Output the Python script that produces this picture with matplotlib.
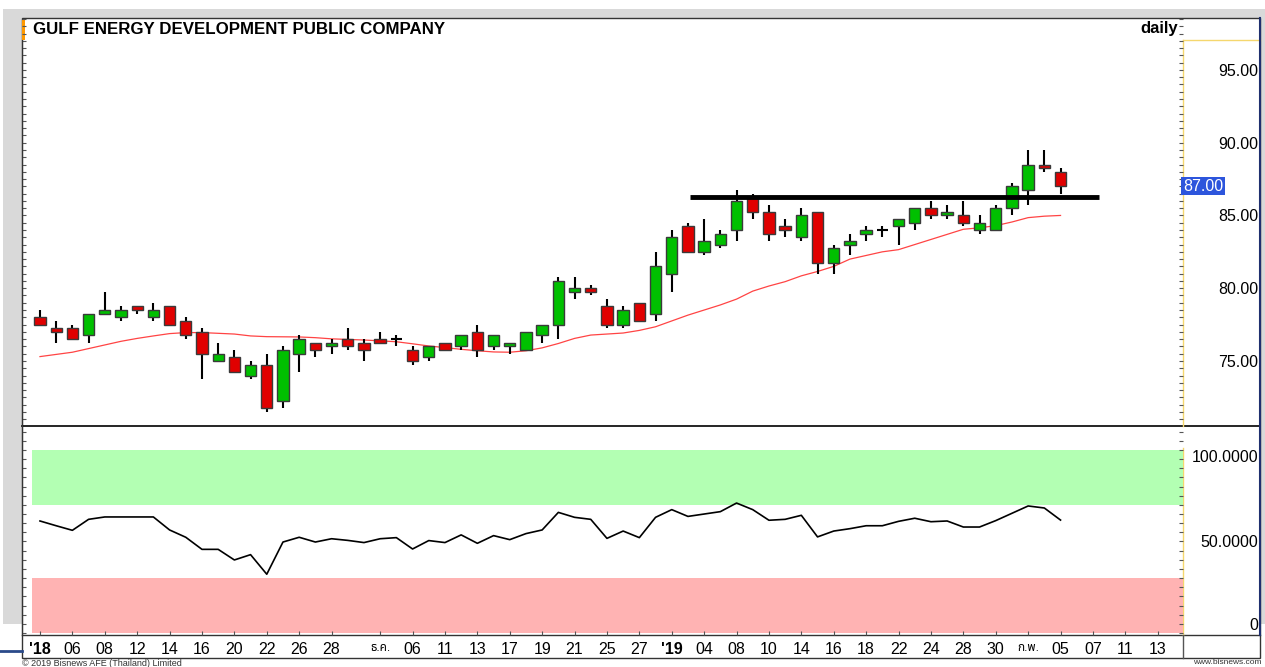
import matplotlib
matplotlib.use('Agg')
import matplotlib.pyplot as plt
from matplotlib import font_manager
from matplotlib.patches import Rectangle
from matplotlib.ticker import MultipleLocator, FixedLocator
import numpy as np

# pick a family that has Thai glyphs for the month labels
installed = {f.name for f in font_manager.fontManager.ttflist}
thai_font = next((n for n in ['Noto Sans Thai', 'Noto Sans Thai Looped', 'Sarabun',
                              'Loma', 'Garuda', 'Tlwg Typo', 'Anuphan', 'Athiti']
                  if n in installed), 'DejaVu Sans')
plt.rcParams['font.family'] = ['Liberation Sans', thai_font, 'DejaVu Sans']

# OHLC, one row per trading day (2 Nov 2018 .. 5 Feb 2019)
opens = [78.00, 77.25, 77.25, 76.75, 78.25, 78.00, 78.75, 78.00, 78.75, 77.75,
         77.00, 75.00, 75.25, 74.00, 74.75, 72.25, 75.50, 76.25, 76.00, 76.50,
         76.25, 76.50, 76.50, 75.75, 75.25, 76.25, 76.00, 77.00, 76.00, 76.00,
         75.75, 76.75, 77.50, 79.75, 80.00, 78.75, 77.50, 79.00, 78.25, 81.00,
         84.25, 82.50, 83.00, 84.00, 86.25, 85.25, 84.25, 83.50, 85.25, 81.75,
         83.00, 83.75, 84.00, 84.25, 84.50, 85.50, 85.00, 85.00, 84.00, 84.00,
         85.50, 86.75, 88.50, 88.00]
highs = [78.50, 77.75, 77.50, 78.25, 79.75, 78.75, 78.75, 79.00, 78.75, 78.00,
         77.25, 76.25, 75.75, 75.00, 75.50, 76.00, 76.75, 76.25, 76.50, 77.25,
         76.50, 77.00, 76.75, 76.00, 76.00, 76.25, 76.75, 77.50, 76.75, 76.25,
         77.00, 77.50, 80.75, 80.75, 80.25, 79.25, 78.75, 79.00, 82.50, 84.00,
         84.50, 84.75, 84.00, 86.75, 86.50, 85.75, 84.75, 85.50, 85.25, 83.00,
         83.75, 84.25, 84.25, 84.75, 85.50, 86.00, 85.75, 86.00, 85.00, 85.75,
         87.25, 89.50, 89.50, 88.25]
lows = [77.50, 76.25, 76.50, 76.25, 78.25, 77.75, 78.25, 77.75, 77.50, 76.50,
        73.75, 75.00, 74.25, 73.75, 71.50, 71.75, 74.25, 75.25, 75.50, 75.75,
        75.00, 76.25, 76.00, 74.75, 75.00, 75.75, 75.75, 75.25, 75.75, 75.50,
        75.75, 76.25, 76.50, 79.25, 79.50, 77.25, 77.25, 77.75, 77.75, 79.75,
        82.50, 82.25, 82.75, 83.25, 84.75, 83.25, 83.50, 83.25, 81.00, 81.00,
        82.25, 83.25, 83.50, 83.00, 84.00, 84.75, 84.75, 84.25, 83.75, 84.00,
        85.00, 85.75, 88.00, 86.50]
closes = [77.50, 77.00, 76.50, 78.25, 78.50, 78.50, 78.50, 78.50, 77.50, 76.75,
          75.50, 75.50, 74.25, 74.75, 71.75, 75.75, 76.50, 75.75, 76.25, 76.00,
          75.75, 76.25, 76.50, 75.00, 76.00, 75.75, 76.75, 75.75, 76.75, 76.25,
          77.00, 77.50, 80.50, 80.00, 79.75, 77.50, 78.50, 77.75, 81.50, 83.50,
          82.50, 83.25, 83.75, 86.00, 85.25, 83.75, 84.00, 85.00, 81.75, 82.75,
          83.25, 84.00, 84.00, 84.75, 85.50, 85.00, 85.25, 84.50, 84.50, 85.50,
          87.00, 88.50, 88.25, 87.00]

ma = [75.30, 75.45, 75.60, 75.85, 76.10, 76.35, 76.55, 76.72, 76.88, 76.95,
      76.95, 76.90, 76.85, 76.72, 76.67, 76.66, 76.65, 76.60, 76.52, 76.48,
      76.44, 76.38, 76.32, 76.18, 76.03, 75.92, 75.80, 75.70, 75.62, 75.60,
      75.70, 75.90, 76.20, 76.55, 76.78, 76.85, 76.92, 77.10, 77.35, 77.75,
      78.15, 78.50, 78.85, 79.25, 79.80, 80.15, 80.45, 80.85, 81.15, 81.50,
      82.00, 82.25, 82.50, 82.65, 83.00, 83.35, 83.70, 84.05, 84.15, 84.30,
      84.55, 84.85, 84.95, 85.00]

rsi = [61.2, 58.6, 56.1, 62.1, 63.4, 63.4, 63.4, 63.4, 56.3, 52.3,
       45.7, 45.7, 39.9, 42.8, 32.1, 49.7, 52.3, 49.7, 51.5, 50.6,
       49.4, 51.5, 52.1, 45.9, 50.5, 49.4, 53.6, 49.0, 53.2, 51.0,
       54.3, 56.3, 65.9, 63.2, 62.1, 51.7, 55.7, 52.1, 63.2, 67.4,
       63.7, 65.0, 66.3, 71.0, 67.4, 61.6, 62.1, 64.3, 52.5, 55.7,
       57.0, 58.6, 58.6, 61.0, 62.7, 60.8, 61.2, 57.9, 57.9, 61.4,
       65.4, 69.4, 68.3, 61.7]

resistance = 86.25
last_price = 87.00

tick_idx = [0, 2, 4, 6, 8, 10, 12, 14, 16, 18, 21, 23, 25, 27, 29, 31, 33, 35, 37,
            39, 41, 43, 45, 47, 49, 51, 53, 55, 57, 59, 61, 63, 65, 67, 69]
tick_lbl = ["'18", "06", "08", "12", "14", "16", "20", "22", "26", "28", "ธ.ค.",
            "06", "11", "13", "17", "19", "21", "25", "27", "'19", "04", "08", "10",
            "14", "16", "18", "22", "24", "28", "30", "ก.พ.", "05", "07", "11", "13"]

W, H = 1265, 667
fig = plt.figure(figsize=(W / 100, H / 100), dpi=100)


def px(x0, y0, x1, y1):
    return [x0 / W, 1 - y1 / H, (x1 - x0) / W, (y1 - y0) / H]


# window background and frame
bg = fig.add_axes([0, 0, 1, 1])
bg.set_xlim(0, W)
bg.set_ylim(H, 0)
bg.axis('off')
bg.add_patch(Rectangle((3, 9), W - 3, 615, color='#d9d9d9', lw=0))
bg.add_patch(Rectangle((22, 18), 1238, 640, facecolor='white', edgecolor='#333333', lw=1))
bg.add_patch(Rectangle((22, 20), 3, 20, color='#ff9900', lw=0))
bg.plot([22, 1260], [426, 426], color='black', lw=1.2)
bg.plot([22, 1260], [635, 635], color='#333333', lw=1)
bg.plot([1183, 1183], [40, 426], color='#f5d76e', lw=1)
bg.plot([1183, 1183], [448, 635], color='#f5d76e', lw=1)
bg.plot([1183, 1183], [635, 658], color='#555555', lw=1)
bg.plot([1183, 1260], [40, 40], color='#f5d76e', lw=1)
bg.plot([1260, 1260], [18, 635], color='#1f2f6f', lw=1.5)
bg.plot([0, 22], [651, 651], color='#2a4a8a', lw=2)
bg.text(33, 29, 'GULF ENERGY DEVELOPMENT PUBLIC COMPANY', fontsize=12.2,
        fontweight='bold', va='center', ha='left')
bg.text(1178, 29, 'daily', fontsize=12, fontweight='bold', va='center', ha='right')
bg.text(22, 663, '\u00a9 2019 Bisnews AFE (Thailand) Limited', fontsize=6.5,
        va='center', ha='left', color='#333333')
bg.text(1262, 663, 'www.bisnews.com', fontsize=6, va='center', ha='right',
        color='#333333')

x = np.arange(len(closes))
xlo, xhi = -1.11, 70.56

# price panel
ax1 = fig.add_axes(px(22, 18, 1183, 426))
ax1.set_facecolor('none')
ax1.set_xlim(xlo, xhi)
ax1.set_ylim(70.53, 98.57)
for s in ['top', 'bottom', 'right']:
    ax1.spines[s].set_visible(False)
ax1.spines['left'].set_color('#333333')
ax1.spines['left'].set_bounds(70.53, 97.06)

ax1.plot(x, ma, color='#ff4444', lw=0.9, zorder=2)
up = [c >= o for o, c in zip(opens, closes)]
ax1.vlines(x, lows, highs, color='black', lw=1.5, zorder=3)
for i in range(len(x)):
    lo_b = min(opens[i], closes[i])
    hgt = max(abs(closes[i] - opens[i]), 0.08)
    col = '#00c000' if up[i] else '#e00000'
    if abs(closes[i] - opens[i]) < 0.01:
        ax1.hlines(opens[i], x[i] - 0.35, x[i] + 0.35, color='black', lw=1.5, zorder=4)
    else:
        ax1.add_patch(Rectangle((x[i] - 0.35, lo_b), 0.7, hgt, facecolor=col,
                                edgecolor='#3a3a3a', lw=1.0, zorder=4))
ax1.plot([40.1, 65.4], [resistance, resistance], color='black', lw=3.5,
         solid_capstyle='butt', zorder=5)

ax1.xaxis.set_visible(False)
ax1.yaxis.set_major_locator(FixedLocator([75, 80, 85, 90, 95]))
ax1.yaxis.set_minor_locator(MultipleLocator(0.5))
ax1.tick_params(axis='y', which='both', direction='in', left=True, right=True,
                labelleft=False, labelright=True, color='#555555',
                length=3, width=0.8)
ax1.tick_params(axis='y', which='major', pad=54, labelsize=11.5)
ax1.set_yticklabels(['75.00', '80.00', '85.00', '90.00', '95.00'])
for lab in ax1.get_yticklabels():
    lab.set_ha('right')
ax1.text(1.0, last_price, '87.00', transform=ax1.get_yaxis_transform(),
         ha='left', va='center', fontsize=11.5, color='white', zorder=6,
         bbox=dict(boxstyle='square,pad=0.1', facecolor='#2d55dc', edgecolor='none'),
         clip_on=False)

# RSI panel
ax2 = fig.add_axes(px(22, 426, 1183, 635))
ax2.set_facecolor('none')
ax2.set_xlim(xlo, xhi)
ax2.set_ylim(-1.1, 113.1)
for s in ['top', 'right', 'bottom']:
    ax2.spines[s].set_visible(False)
ax2.spines['left'].set_color('#333333')
ax2.axhspan(70, 100, xmin=0.0086, xmax=1.0, color='#b3ffb3', lw=0, zorder=1)
ax2.axhspan(0, 30, xmin=0.0086, xmax=1.0, color='#ffb3b3', lw=0, zorder=1)
ax2.plot(x, rsi, color='black', lw=1.2, zorder=3)

ax2.yaxis.set_major_locator(FixedLocator([0, 50, 100]))
ax2.yaxis.set_minor_locator(MultipleLocator(5))
ax2.tick_params(axis='y', which='both', direction='in', left=True, right=True,
                labelleft=False, labelright=True, color='#555555',
                length=3, width=0.8)
ax2.tick_params(axis='y', which='major', pad=54, labelsize=11.5)
ax2.set_yticklabels(['0', '50.0000', '100.0000'])
rlabs = ax2.get_yticklabels()
for lab in rlabs:
    lab.set_ha('right')
rlabs[0].set_va('bottom')
rlabs[2].set_va('top')

ax2.set_xticks(tick_idx)
ax2.set_xticklabels(tick_lbl)
ax2.tick_params(axis='x', direction='in', length=3, color='#555555', pad=5,
                labelsize=11.5)
for lab in ax2.get_xticklabels():
    t = lab.get_text()
    if t.startswith("'"):
        lab.set_fontweight('bold')
    elif not t.isdigit():
        lab.set_fontsize(8.5)

fig.savefig('out.png', dpi=100)
